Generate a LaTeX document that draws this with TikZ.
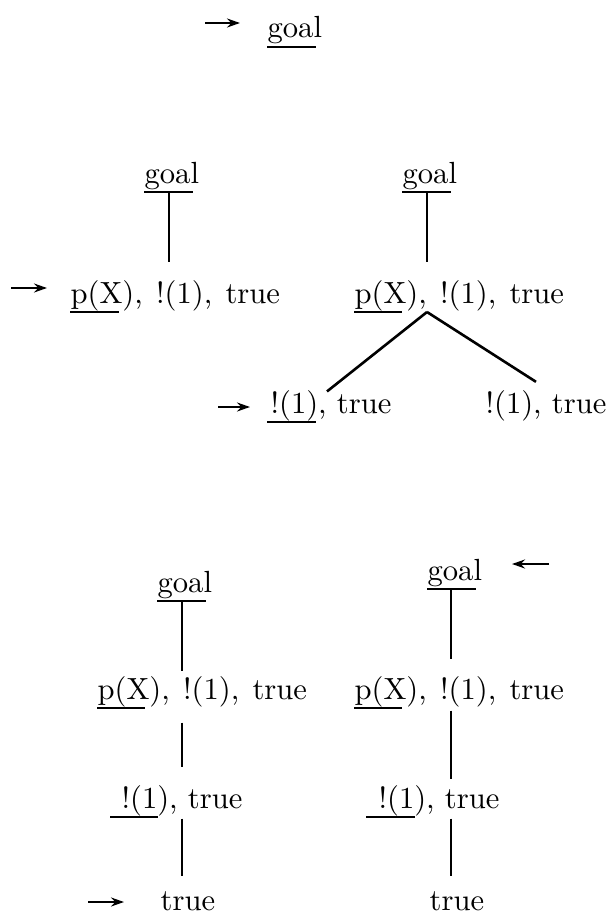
\documentclass[tikz,border=0pt]{standalone}
\usetikzlibrary{arrows.meta,calc}
\tikzset{
  lbl/.style={inner sep=0pt, anchor=base west, scale=1.53},
  edge/.style={line width=1.3pt},
  uline/.style={line width=1.1pt},
  ptr/.style={line width=1.1pt, -{Stealth[length=6.5pt,width=4.5pt]}},
}
\newcommand{\goalrow}{p(X),\hspace{1pt} !(1),\hspace{1pt} true}

\begin{document}
\begin{tikzpicture}[x=0.5pt, y=-0.5pt, font=\fontsize{10}{12}\selectfont]
  \useasboundingbox (0,0) rectangle (612,915);

  % initial goal
  \node[lbl] (g0) at (267,38) {goal};
  \coordinate (g0-ul) at ($(g0.base west)+(0,9)$);
  \draw[uline] (g0-ul) -- ++(49,0);
  \coordinate (in0) at (205,23);
  \draw[ptr] (in0) -- ++(35,0);

  % first expansion
  \node[lbl] (gA) at (144,183) {goal};
  \node[lbl] (pA) at (70,303) {\goalrow};
  \coordinate (gA-ul) at ($(gA.base west)+(0,9)$);
  \coordinate (pA-ul) at ($(pA.base west)+(0,9)$);
  \coordinate (sA) at ($(gA-ul)+(25,0)$);
  \draw[uline] (gA-ul) -- ++(49,0);
  \draw[uline] (pA-ul) -- ++(49,0);
  \draw[edge, shorten >=8.8pt] (sA) -- (sA |- pA.north);
  \coordinate (inA) at (11,288);
  \draw[ptr] (inA) -- ++(36,0);

  % two alternatives for p(X)
  \node[lbl] (gB) at (402,183) {goal};
  \node[lbl] (pB) at (354,303) {\goalrow};
  \node[lbl] (cL) at (270,413) {!(1), true};
  \node[lbl] (cR) at (485,413) {!(1), true};
  \coordinate (gB-ul) at ($(gB.base west)+(0,9)$);
  \coordinate (pB-ul) at ($(pB.base west)+(0,9)$);
  \coordinate (cL-ul) at ($(cL.base west)+(-3,9)$);
  \coordinate (sB) at ($(gB-ul)+(25,0)$);
  \draw[uline] (gB-ul) -- ++(49,0);
  \draw[uline] (pB-ul) -- ++(48,0);
  \draw[uline] (cL-ul) -- ++(49,0);
  \draw[edge, shorten >=8.8pt] (sB) -- (sB |- pB.north);
  \draw[edge] (sB |- pB-ul) -- ($(cL.north west)+(57,2)$);
  \draw[edge] (sB |- pB-ul) -- ($(cR.north west)+(51,-7.6)$);
  \coordinate (inL) at (218,407);
  \draw[ptr] (inL) -- ++(32,0);

  % cut reached, left branch
  \node[lbl] (gC) at (157,592) {goal};
  \node[lbl] (pC) at (97,699) {\goalrow};
  \node[lbl] (qC) at (121,808) {!(1), true};
  \node[lbl] (tC) at (160,910) {true};
  \coordinate (gC-ul) at ($(gC.base west)+(0,9)$);
  \coordinate (pC-ul) at ($(pC.base west)+(0,9)$);
  \coordinate (qC-ul) at ($(qC.base west)+(-11,9)$);
  \coordinate (sC) at ($(gC-ul)+(25,0)$);
  \draw[uline] (gC-ul) -- ++(49,0);
  \draw[uline] (pC-ul) -- ++(48,0);
  \draw[uline] (qC-ul) -- ++(48,0);
  \draw[edge, shorten >=2.3pt] (sC) -- (sC |- pC.north);
  \draw[edge, shorten <=7.7pt, shorten >=8.8pt] (sC |- pC.south) -- (sC |- qC.north);
  \draw[edge, shorten <=1.2pt, shorten >=7.3pt] (sC |- qC.south) -- (sC |- tC.north);
  \coordinate (inC) at (88,902);
  \draw[ptr] (inC) -- ++(36,0);

  % back to the goal
  \node[lbl] (gD) at (427,580) {goal};
  \node[lbl] (pD) at (354,699) {\goalrow};
  \node[lbl] (qD) at (378,808) {!(1), true};
  \node[lbl] (tD) at (429,910) {true};
  \coordinate (gD-ul) at ($(gD.base west)+(0,9)$);
  \coordinate (pD-ul) at ($(pD.base west)+(0,9)$);
  \coordinate (qD-ul) at ($(qD.base west)+(-12,9)$);
  \coordinate (sD) at ($(gD-ul)+(24,0)$);
  \draw[uline] (gD-ul) -- ++(49,0);
  \draw[uline] (pD-ul) -- ++(48,0);
  \draw[uline] (qD-ul) -- ++(49,0);
  \draw[edge, shorten >=8.3pt] (sD) -- (sD |- pD.north);
  \draw[edge, shorten <=1.7pt, shorten >=2.8pt] (sD |- pD.south) -- (sD |- qD.north);
  \draw[edge, shorten <=1.2pt, shorten >=7.3pt] (sD |- qD.south) -- (sD |- tD.north);
  \coordinate (inD) at (549,564);
  \draw[ptr] (inD) -- ++(-37,0);
\end{tikzpicture}
\end{document}
